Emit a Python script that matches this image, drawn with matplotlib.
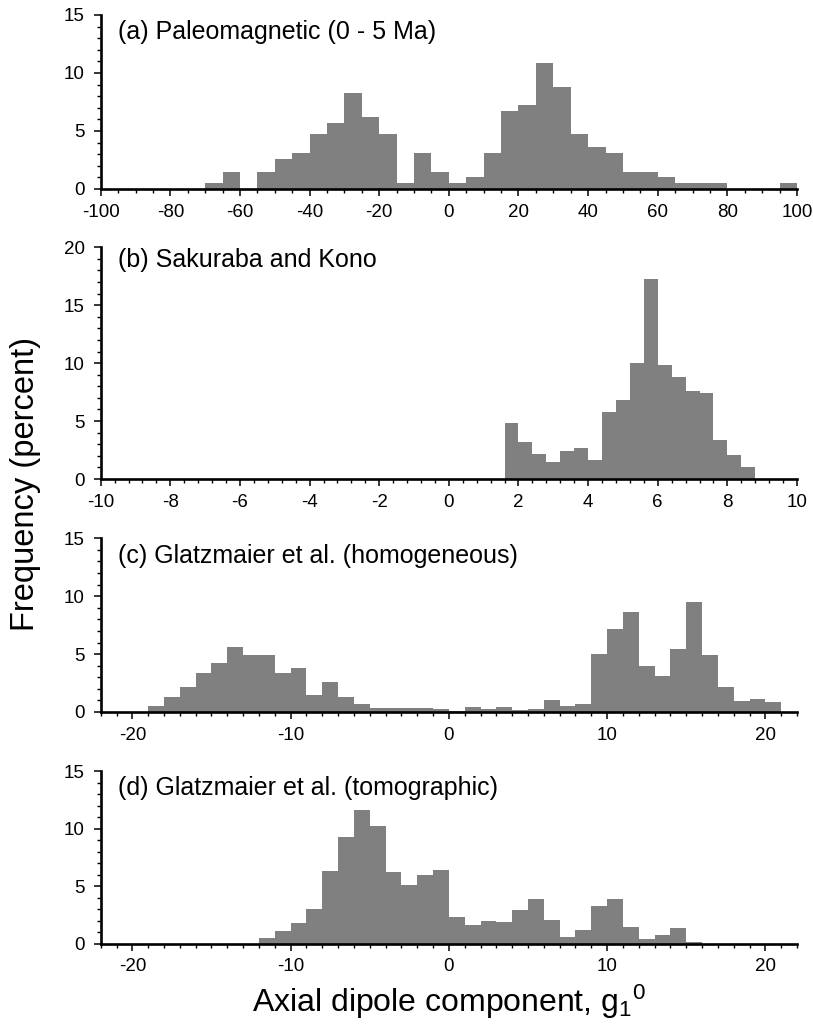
import numpy as np
import matplotlib
matplotlib.use("Agg")
import matplotlib.pyplot as plt
from matplotlib.ticker import MultipleLocator

plt.rcParams['font.family'] = ['Liberation Sans', 'DejaVu Sans']
plt.rcParams['mathtext.fontset'] = 'custom'
plt.rcParams['mathtext.rm'] = 'Liberation Sans'
plt.rcParams['mathtext.it'] = 'Liberation Sans'
plt.rcParams['axes.unicode_minus'] = False

# ---- data (bin left edges + heights, percent) ----
a_start, a_width = -70, 5
a_heights = [0.5, 1.5, 0, 1.5, 2.6, 3.1, 4.7, 5.7, 8.3, 6.2, 4.7, 0.5, 3.1, 1.5,
             0.5, 1.0, 3.1, 6.7, 7.2, 10.9, 8.8, 4.7, 3.6, 3.1, 1.5, 1.5, 1.0,
             0.5, 0.5, 0.5, 0, 0, 0, 0.5]

b_start, b_width = 1.6, 0.4
b_heights = [4.8, 3.2, 2.2, 1.5, 2.4, 2.7, 1.6, 5.8, 6.8, 10.0, 17.3, 9.8, 8.8,
             7.6, 7.4, 3.4, 2.1, 1.0]

c_start, c_width = -19, 1
c_heights = [0.5, 1.3, 2.2, 3.4, 4.2, 5.6, 4.9, 4.9, 3.4, 3.8, 1.5, 2.6, 1.3, 0.7,
             0.35, 0.35, 0.35, 0.35, 0.26, 0.1, 0.43, 0.26, 0.43, 0.17, 0.26, 1.0,
             0.5, 0.7, 5.0, 7.2, 8.6, 4.0, 3.1, 5.4, 9.5, 4.9, 2.2, 0.95, 1.1, 0.86]

d_start, d_width = -12, 1
d_heights = [0.5, 1.1, 1.8, 3.0, 6.3, 9.3, 11.6, 10.2, 6.2, 5.1, 5.95, 6.4, 2.3,
             1.6, 2.0, 1.9, 2.9, 3.9, 2.05, 0.6, 1.2, 3.3, 3.9, 1.45, 0.4, 0.75,
             1.35, 0.15]

titles = ["(a) Paleomagnetic (0 - 5 Ma)", "(b) Sakuraba and Kono",
          "(c) Glatzmaier et al. (homogeneous)", "(d) Glatzmaier et al. (tomographic)"]

W, H = 813, 1025
fig = plt.figure(figsize=(W / 100, H / 100), dpi=100)

# pixel geometry: (top, bottom) of each axes
left_px, right_px = 100.7, 797
boxes = [(15, 189), (247.3, 479), (538.3, 712), (771, 943.7)]
panels = [
    (a_start, a_width, a_heights, (-100, 100), (0, 15), 20, 5, 5),
    (b_start, b_width, b_heights, (-10, 10), (0, 20), 2, 0.4, 5),
    (c_start, c_width, c_heights, (-22, 22), (0, 15), 10, 1, 5),
    (d_start, d_width, d_heights, (-22, 22), (0, 15), 10, 1, 5),
]
title_offsets = [24.5, 20, 25, 24]

for i, ((start, width, heights, xl, yl, xmaj, xmin, ymaj), (top, bot)) in enumerate(zip(panels, boxes)):
    ax = fig.add_axes([left_px / W, 1 - bot / H, (right_px - left_px) / W, (bot - top) / H])
    lefts = start + width * np.arange(len(heights))
    ax.bar(lefts, heights, width=width, align='edge', color='#808080', linewidth=0, zorder=1)
    ax.set_xlim(*xl)
    ax.set_ylim(*yl)
    for s in ['top', 'right']:
        ax.spines[s].set_visible(False)
    for s in ['left', 'bottom']:
        ax.spines[s].set_linewidth(1.9)
        ax.spines[s].set_zorder(3)
    ax.xaxis.set_major_locator(MultipleLocator(xmaj))
    ax.xaxis.set_minor_locator(MultipleLocator(xmin))
    ax.yaxis.set_major_locator(MultipleLocator(ymaj))
    ax.yaxis.set_minor_locator(MultipleLocator(1))
    ax.tick_params(which='major', direction='out', length=5, width=1.1, labelsize=13.5, color='black')
    ax.tick_params(which='minor', direction='out', length=2.7, width=1.0, color='black')
    ax.tick_params(axis='x', which='major', pad=5.5)
    ax.tick_params(axis='y', which='major', pad=6.5)
    ax.patch.set_visible(False)
    fig.text(118 / W, 1 - (top + title_offsets[i]) / H, titles[i], fontsize=18,
             ha='left', va='baseline')

fig.text(26 / W, 1 - 484 / H, "Frequency (percent)", rotation=90, fontsize=23.5,
         ha='center', va='center')
fig.text(449 / W, 1 - 1012 / H, "Axial dipole component, g$_1{}^0$", fontsize=23,
         ha='center', va='baseline')

fig.savefig("out.png", dpi=100)
